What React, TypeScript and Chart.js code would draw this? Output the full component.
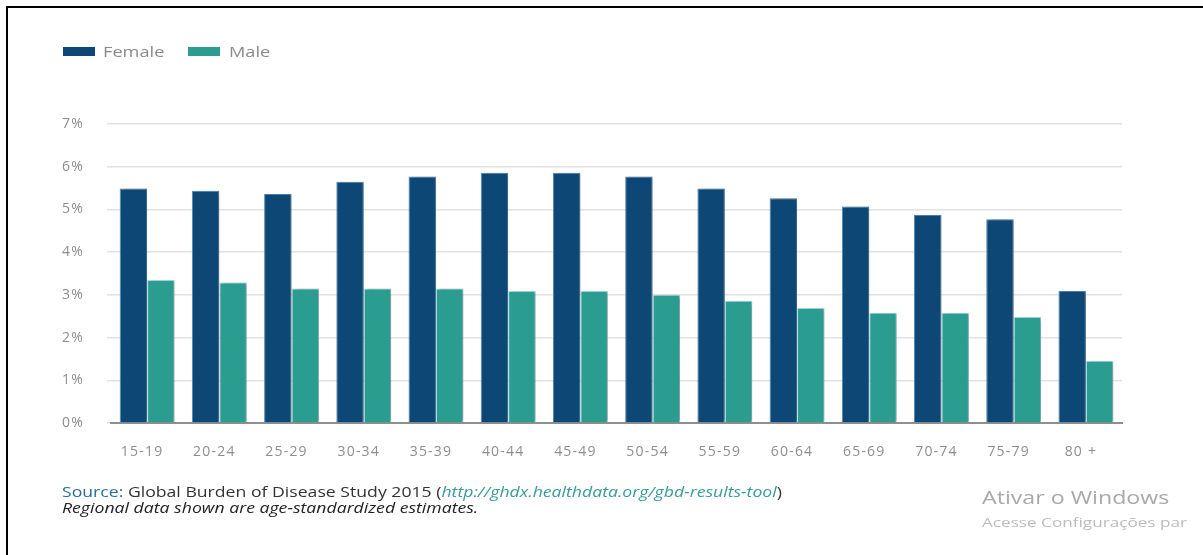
import React, { useEffect, useRef } from "react";
import { Chart, registerables } from "chart.js";

Chart.register(...registerables);

const ageGroups = ["15-19", "20-24", "25-29", "30-34", "35-39", "40-44", "45-49", "50-54", "55-59", "60-64", "65-69", "70-74", "75-79", "80 +"];
const femaleValues = [5.49, 5.44, 5.36, 5.65, 5.77, 5.86, 5.86, 5.77, 5.49, 5.26, 5.07, 4.87, 4.77, 3.09];
const maleValues = [3.35, 3.29, 3.15, 3.15, 3.15, 3.09, 3.09, 3.0, 2.86, 2.69, 2.58, 2.58, 2.48, 1.46];
const yTicks = [0, 1, 2, 3, 4, 5, 6, 7];

const seriesNames = ["Female", "Male"];
const seriesColors = ["#0c4776", "#2b9c90"];
const seriesEdges = ["#4f86b3", "#a9e1e6"];

const W = 1203;
const H = 555;
const FONT = "'Open Sans', 'Noto Sans', sans-serif";
const STRETCH = "scaleX(1.3)";

// Soft drop shadow to the right of each bar, and wider letter spacing for axis text
const chartLook = {
  id: "chartLook",
  beforeDraw(chart: any) {
    (chart.ctx as any).letterSpacing = "1.2px";
  },
  beforeDatasetsDraw(chart: any) {
    const ctx = chart.ctx;
    ctx.save();
    ctx.shadowColor = "rgba(0,0,0,0.28)";
    ctx.shadowOffsetX = 3;
    ctx.shadowOffsetY = 0;
    ctx.shadowBlur = 3;
  },
  afterDatasetsDraw(chart: any) {
    chart.ctx.restore();
  },
};

const legendBoxLeft = [63, 188];
const legendTextLeft = [103, 229];

export default function App() {
  const canvasRef = useRef<HTMLCanvasElement | null>(null);

  useEffect(() => {
    const canvas = canvasRef.current;
    if (!canvas) return;
    const chart = new Chart(canvas, {
      type: "bar",
      data: {
        labels: ageGroups,
        datasets: [
          {
            label: seriesNames[0],
            data: femaleValues,
            backgroundColor: seriesColors[0],
            borderColor: seriesEdges[0],
            borderWidth: 1,
            borderSkipped: "bottom",
            categoryPercentage: 0.76,
            barPercentage: 1,
          },
          {
            label: seriesNames[1],
            data: maleValues,
            backgroundColor: seriesColors[1],
            borderColor: seriesEdges[1],
            borderWidth: 1,
            borderSkipped: "bottom",
            categoryPercentage: 0.76,
            barPercentage: 1,
          },
        ],
      },
      options: {
        responsive: false,
        devicePixelRatio: 1,
        animation: false,
        layout: { padding: { left: 62, top: 124, right: 81, bottom: 0 } },
        plugins: {
          legend: { display: false },
          tooltip: { enabled: false },
        },
        scales: {
          x: {
            grid: { display: false, drawTicks: false },
            border: { display: true, color: "#8f8f8f", width: 2 },
            ticks: {
              color: "#8e8e8e",
              padding: 21,
              labelOffset: -5,
              font: { family: FONT, size: 14 },
            },
            afterFit(scale: any) {
              scale.height = 132;
            },
          },
          y: {
            min: 0,
            max: 7,
            afterBuildTicks(scale: any) {
              scale.ticks = yTicks.map((v) => ({ value: v }));
            },
            grid: { color: "#e2e2e2", lineWidth: 1.5, drawTicks: true, tickLength: 4 },
            border: { display: false },
            ticks: {
              color: "#8e8e8e",
              crossAlign: "far",
              padding: 0,
              font: { family: FONT, size: 14 },
              callback: (v: any) => `${v}%`,
            },
            afterFit(scale: any) {
              scale.width = 49;
            },
          },
        },
      },
      plugins: [chartLook],
    });
    return () => chart.destroy();
  }, []);

  const stretched = (extra: React.CSSProperties): React.CSSProperties => ({
    position: "absolute",
    whiteSpace: "nowrap",
    transform: STRETCH,
    transformOrigin: "left center",
    ...extra,
  });

  return (
    <div style={{ position: "absolute", left: 0, top: 0, width: W, height: H, background: "#fff", overflow: "hidden", fontFamily: FONT }}>
      <canvas ref={canvasRef} width={W} height={H} style={{ position: "absolute", left: 0, top: 0, width: W, height: H }} />
      <div style={{ position: "absolute", left: 6, top: 6, right: 0, bottom: 0, borderTop: "2px solid #000", borderLeft: "2px solid #000" }} />
      {seriesNames.map((name, i) => (
        <React.Fragment key={name}>
          <span style={{ position: "absolute", left: legendBoxLeft[i], top: 47, width: 32, height: 9, background: seriesColors[i] }} />
          <span style={stretched({ left: legendTextLeft[i], top: 41, fontSize: 14, lineHeight: "22px", color: "#8a8a8a" })}>{name}</span>
        </React.Fragment>
      ))}
      <div style={stretched({ left: 62, top: 484, fontSize: 14, lineHeight: "16px", color: "#333", transform: "scaleX(1.26)" })}>
        <div>
          <span style={{ color: "#2a6f9c" }}>Source:</span>
          {"  Global Burden of Disease Study 2015 ("}
          <span style={{ fontStyle: "italic", color: "#3a9a9a" }}>http://ghdx.healthdata.org/gbd-results-tool</span>
          {")"}
        </div>
        <div style={{ fontStyle: "italic", color: "#222" }}>Regional data shown are age-standardized estimates.</div>
      </div>
      <div style={stretched({ left: 982, top: 484, fontSize: 19, color: "#a9a9a9", lineHeight: "26px", transform: "scaleX(1.22)" })}>Ativar o Windows</div>
      <div style={stretched({ left: 982, top: 512, fontSize: 13.5, color: "#bcbcbc", lineHeight: "20px", transform: "scaleX(1.27)" })}>Acesse Configurações par</div>
    </div>
  );
}
